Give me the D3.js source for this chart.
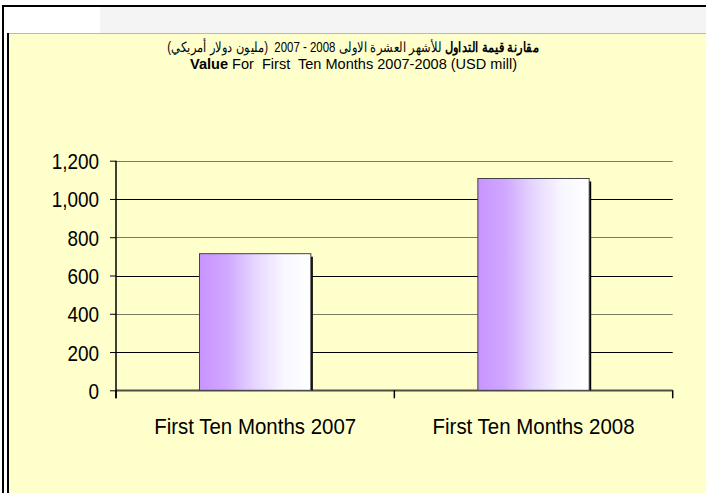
<!DOCTYPE html>
<html><head><meta charset="utf-8">
<script src="https://cdn.jsdelivr.net/npm/d3@7"></script>
<style>body{margin:0;background:#fff}svg{display:block}text{font-family:"Liberation Sans",Arial,sans-serif}</style>
</head><body>
<script>
const categories = ["First Ten Months 2007", "First Ten Months 2008"];
const values = [714, 1107];
const yTicks = [0, 200, 400, 600, 800, 1000, 1200];
const titleBold = "مقارنة قيمة التداول";
const titleRest = " للأشهر العشرة الاولى 2008 - 2007  (مليون دولار أمريكي)";
const subtitleBold = "Value";
const subtitleRest = " For  First  Ten Months 2007-2008 (USD mill)";

const W = 706, H = 493;
const svg = d3.select("body").append("svg").attr("width", W).attr("height", H);

// frame
svg.append("rect").attr("x",0).attr("y",0).attr("width",W).attr("height",H).attr("fill","#fff");
svg.append("rect").attr("x",100).attr("y",7).attr("width",W-100).attr("height",26).attr("fill","#f4f4f4");
svg.append("rect").attr("x",9).attr("y",33).attr("width",W-9).attr("height",H-33).attr("fill","#ffffcc");
svg.append("rect").attr("x",9).attr("y",33).attr("width",W-9).attr("height",1).attr("fill","#b8b8b8");
svg.append("rect").attr("x",2).attr("y",5).attr("width",W-2).attr("height",2).attr("fill","#000");
svg.append("rect").attr("x",2).attr("y",5).attr("width",2).attr("height",H-5).attr("fill","#000");
svg.append("rect").attr("x",7).attr("y",33).attr("width",2).attr("height",H-33).attr("fill","#000");

// title line 1 (right-to-left)
const tg = svg.append("g");
const t1 = tg.append("text").attr("x",0).attr("y",0).attr("text-anchor","middle")
  .attr("direction","rtl").attr("font-size",14).attr("fill","#000").style("white-space","pre");
t1.append("tspan").attr("font-weight","bold").text(titleBold);
t1.append("tspan").text(titleRest);
const w1 = t1.node().getComputedTextLength();
tg.attr("transform", `translate(353,52) scale(${367 / w1},1)`);

const t2 = svg.append("text").attr("x",190).attr("y",69)
  .attr("font-size",14).attr("fill","#000").attr("textLength",327).attr("lengthAdjust","spacingAndGlyphs")
  .style("white-space","pre");
t2.append("tspan").attr("font-weight","bold").text(subtitleBold);
t2.append("tspan").text(subtitleRest);

// plot
const x0 = 116, x1 = 672.7, yb = 390.3, yt = 160.7;
const x = d3.scaleBand().domain(categories).range([x0, x1]).paddingInner(0.6).paddingOuter(0.3);
const y = d3.scaleLinear().domain([0, 1200]).range([yb, yt]);

const grid = svg.append("g");
yTicks.forEach((t,i) => {
  grid.append("line").attr("x1",x0).attr("x2",x1).attr("y1",Math.round(y(t))+0.5).attr("y2",Math.round(y(t))+0.5)
    .attr("stroke", t===0 ? "#505040" : (i%2===0 ? "#7a7a60" : "#000")).attr("stroke-width", t===0?2:1.2);
});

const defs = svg.append("defs");
const g = defs.append("linearGradient").attr("id","barGrad").attr("x1","0").attr("x2","1").attr("y1","0").attr("y2","0");
[[0,"#c993ff"],[0.25,"#d0a8ff"],[0.5,"#e6d6ff"],[0.75,"#f8f6ff"],[1,"#ffffff"]].forEach(([o,c]) =>
  g.append("stop").attr("offset",o).attr("stop-color",c));

svg.selectAll(".shadow").data(values).enter().append("rect")
  .attr("x",(d,i)=>x(categories[i])+2).attr("y",d=>y(d)+3)
  .attr("width",x.bandwidth()).attr("height",d=>yb-y(d)-3).attr("fill","#000");
svg.selectAll(".bar").data(values).enter().append("rect")
  .attr("x",(d,i)=>x(categories[i])).attr("y",d=>y(d))
  .attr("width",x.bandwidth()).attr("height",d=>yb-y(d))
  .attr("fill","url(#barGrad)").attr("stroke","#444").attr("stroke-width",1);

// y axis
const yAxis = d3.axisLeft(y).tickValues(yTicks).tickSize(6).tickFormat(d3.format(","));
const ya = svg.append("g").attr("transform",`translate(${x0},0)`).call(yAxis);
ya.select(".domain").remove();
ya.append("line").attr("x1",0).attr("x2",0).attr("y1",yt).attr("y2",yb+8).attr("stroke","#000").attr("stroke-width",1.5);
ya.selectAll(".tick line").attr("stroke","#000");
ya.selectAll(".tick text").each(function(d){
  const tk = d3.select(this);
  tk.attr("font-size",22).attr("fill","#000").attr("x",null).attr("dy",null)
    .attr("font-family","Liberation Sans, Arial, sans-serif")
    .attr("text-anchor","end")
    .attr("transform","translate(-17,8) scale(0.86,1)");
});

// x axis
const xAxis = d3.axisBottom(x).tickSize(0).tickPadding(0);
const xa = svg.append("g").attr("transform",`translate(0,${yb})`).call(xAxis);
xa.select(".domain").remove();
[x0, (x0+x1)/2, x1].forEach(v => xa.append("line").attr("x1",v).attr("x2",v).attr("y1",0).attr("y2",8).attr("stroke","#000").attr("stroke-width",1.5));
xa.selectAll(".tick text").attr("font-size",22).attr("fill","#000").attr("dy",null).attr("y",null)
  .attr("font-family","Liberation Sans, Arial, sans-serif")
  .attr("transform","translate(0,44) scale(0.93,1)");
</script>
</body></html>
